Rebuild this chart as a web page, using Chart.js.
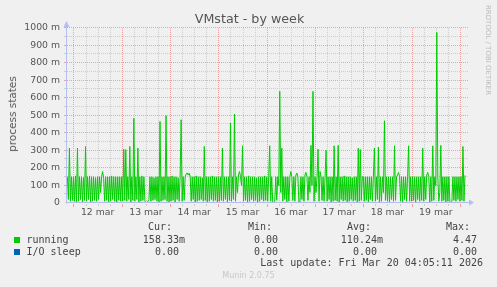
<!DOCTYPE html>
<html lang="en">
<head>
    <meta charset="UTF-8">
    <title>VMstat - by week</title>
    <script src="https://cdn.jsdelivr.net/npm/chart.js"></script>
    <style>
        body {
            margin: 0;
            padding: 0;
            background: #f0f0f0;
        }
        .graph {
            position: relative;
            width: 497px;
            height: 287px;
            overflow: hidden;
            font-family: "DejaVu Sans", sans-serif;
            color: #555;
        }
        .graph canvas {
            position: absolute;
            left: 0;
            top: 0;
        }
        .title {
            position: absolute;
            left: 0;
            width: 497px;
            top: 11px;
            text-align: center;
            font-size: 12.7px;
            line-height: 16px;
            padding-left: 1px;
        }
        .ylabel {
            position: absolute;
            left: 12px;
            top: 114px;
            transform: translate(-50%, -50%) rotate(-90deg);
            font-size: 10.5px;
            white-space: nowrap;
        }
        .side {
            position: absolute;
            left: 488px;
            top: 5px;
            transform-origin: 0 0;
            transform: rotate(90deg) translateY(-50%);
            font-size: 7px;
            color: #bbb;
            white-space: nowrap;
        }
        .mono {
            position: absolute;
            font-family: "DejaVu Sans Mono", monospace;
            font-size: 10px;
            line-height: 12px;
            color: #444;
            white-space: pre;
        }
        .sw {
            position: absolute;
            width: 6px;
            height: 6px;
        }
        .munin {
            position: absolute;
            left: 0;
            width: 497px;
            top: 271px;
            text-align: center;
            font-size: 8px;
            color: #c8c8c8;
        }
    </style>
</head>
<body>
<div class="graph" id="graph">
    <canvas id="vmstat" width="497" height="287"></canvas>
    <div class="title">VMstat - by week</div>
    <div class="ylabel">process states</div>
    <div class="side">RRDTOOL / TOBI OETIKER</div>
    <div class="munin">Munin 2.0.75</div>
</div>

<script>
    // half-hour samples, first one at Mar 11 21:00 (hours counted from Mar 12 00:00)
    const startHour = -3;
    const stepHours = 0.5;

    // running, in milli-processes, one array per day
    const mar11 = [150, 20, 314, 10, 150, 15];
    const mar12 = [150, 10, 155, 5, 314, 10, 150, 20, 150, 5, 145, 15, 323, 10, 150, 20, 155, 5, 150, 10, 150, 15, 145, 10,
                   150, 20, 150, 60, 150, 180, 140, 10, 150, 15, 150, 5, 150, 10, 155, 20, 150, 10, 150, 5, 150, 15, 150, 10];
    const mar13 = [150, 10, 308, 15, 305, 10, 150, 20, 323, 5, 150, 15, 485, 10, 150, 20, 314, 5, 150, 10, 155, 15, 150, 10,
                   5, 0, 10, 20, 150, 10, 150, 15, 145, 20, 150, 10, 150, 5, 466, 10, 150, 15, 150, 20, 499, 10, 150, 5];
    const mar14 = [150, 10, 155, 15, 150, 5, 150, 20, 145, 10, 150, 476, 10, 150, 15, 150, 165, 172, 160, 170, 150, 10, 150, 20,
                   150, 5, 155, 10, 150, 15, 150, 20, 145, 10, 323, 15, 150, 5, 150, 10, 150, 20, 155, 10, 150, 15, 150, 5];
    const mar15 = [150, 10, 150, 15, 314, 10, 150, 20, 150, 5, 150, 15, 457, 10, 150, 20, 508, 10, 150, 60, 160, 180, 150, 100,
                   327, 10, 150, 15, 150, 5, 155, 10, 150, 20, 150, 10, 150, 15, 145, 5, 150, 10, 150, 20, 150, 10, 155, 15];
    const mar16 = [150, 10, 150, 327, 10, 150, 5, 0, 10, 150, 15, 150, 100, 638, 60, 314, 10, 150, 20, 150, 5, 150, 10, 150,
                   180, 150, 15, 150, 10, 160, 171, 150, 5, 0, 150, 20, 150, 10, 160, 175, 150, 15, 150, 60, 329, 100, 638, 10];
    const mar17 = [150, 60, 150, 308, 10, 180, 150, 15, 150, 10, 150, 302, 10, 150, 20, 150, 5, 150, 10, 327, 15, 150, 10, 329,
                   5, 150, 20, 150, 10, 155, 15, 150, 5, 150, 10, 150, 20, 145, 10, 150, 15, 150, 5, 314, 10, 305, 15, 150];
    const mar18 = [150, 10, 150, 15, 150, 5, 150, 20, 150, 10, 150, 314, 10, 150, 20, 320, 5, 150, 10, 150, 60, 470, 15, 150,
                   10, 150, 5, 150, 20, 150, 10, 327, 15, 150, 160, 175, 150, 10, 150, 5, 150, 20, 150, 10, 150, 327, 10, 150];
    const mar19 = [10, 150, 15, 150, 5, 150, 20, 150, 10, 150, 15, 314, 10, 150, 20, 160, 175, 150, 5, 150, 10, 327, 15, 150,
                   100, 975, 150, 10, 60, 329, 10, 150, 15, 150, 5, 150, 10, 150, 5, 0, 10, 150, 15, 150, 10, 150, 20, 150];
    const mar20 = [10, 150, 15, 323, 10, 158];

    const running = [].concat(mar11, mar12, mar13, mar14, mar15, mar16, mar17, mar18, mar19, mar20);
    const ioSleep = [0, 0];

    const dayLabels = ['12 mar', '13 mar', '14 mar', '15 mar', '16 mar', '17 mar', '18 mar', '19 mar'];
    const xTickHours = [0, 6, 12, 18, 24, 30, 36, 42, 48, 54, 60, 66, 72, 78, 84, 90, 96, 102, 108, 114,
                        120, 126, 132, 138, 144, 150, 156, 162, 168, 174, 180, 186, 192];

    const legendRows = [
        { name: 'running', color: '#00cc00', cur: '158.33m', min: '0.00 ', avg: '110.24m', max: '4.47' },
        { name: 'I/O sleep', color: '#0066b3', cur: '0.00 ', min: '0.00 ', avg: '0.00 ', max: '0.00' }
    ];
    const lastUpdate = 'Last update: Fri Mar 20 04:05:11 2026';

    const MAJOR = '#eba3a3';
    const MINOR = '#cdcdcd';
    const AXIS = '#b4bef0';

    // legend block
    const graph = document.getElementById('graph');
    function addText(text, left, right, top) {
        const el = document.createElement('div');
        el.className = 'mono';
        el.textContent = text;
        el.style.top = top + 'px';
        if (left !== null) el.style.left = left + 'px';
        if (right !== null) el.style.right = (497 - right) + 'px';
        graph.appendChild(el);
    }
    addText('Cur:', null, 172, 221);
    addText('Min:', null, 272, 221);
    addText('Avg:', null, 371, 221);
    addText('Max:', null, 470, 221);
    legendRows.forEach((row, i) => {
        const top = 234 + i * 12.3;
        const sw = document.createElement('div');
        sw.className = 'sw';
        sw.style.background = row.color;
        sw.style.left = '14px';
        sw.style.top = (top + 3) + 'px';
        graph.appendChild(sw);
        addText(row.name, 26.5, null, top);
        addText(row.cur, null, 185, top);
        addText(row.min, null, 284, top);
        addText(row.avg, null, 383, top);
        addText(row.max, null, 477, top);
    });
    addText(lastUpdate, null, 483, 257);

    // rrdtool style dotted grid, one pixel on / one off
    const dottedGrid = {
        id: 'dottedGrid',
        beforeDatasetsDraw(chart) {
            const { ctx, chartArea: a, scales } = chart;
            const top = Math.round(a.top), bottom = Math.round(a.bottom);
            const left = Math.round(a.left), right = Math.round(a.right);
            ctx.save();
            scales.y.ticks.forEach(t => {
                if (t.value === 0) return;
                const py = Math.round(scales.y.getPixelForValue(t.value)) - 1;
                const major = t.value % 100 === 0;
                ctx.fillStyle = major ? MAJOR : MINOR;
                for (let x = left; x < right; x += 2) ctx.fillRect(x, py, 1, 1);
                ctx.fillRect(left - 3, py, 2, 1);
            });
            scales.x.ticks.forEach(t => {
                const px = Math.round(scales.x.getPixelForValue(t.value));
                const major = t.value % 24 === 0;
                ctx.fillStyle = major ? MAJOR : MINOR;
                for (let y = top; y < bottom; y += 2) ctx.fillRect(px, y, 1, 1);
                ctx.fillRect(px, bottom + 1, 1, major ? 3 : 2);
            });
            ctx.restore();
        },
        // axis lines with arrows, drawn over the data like rrdtool does
        afterDatasetsDraw(chart) {
            const { ctx, chartArea: a } = chart;
            const y0 = Math.round(chart.scales.y.getPixelForValue(0)) - 0.5;
            const x0 = Math.round(a.left) - 0.5;
            ctx.save();
            ctx.strokeStyle = AXIS;
            ctx.fillStyle = AXIS;
            ctx.lineWidth = 1;
            ctx.beginPath();
            ctx.moveTo(x0 - 1, y0);
            ctx.lineTo(a.right + 2, y0);
            ctx.moveTo(x0, y0 + 1);
            ctx.lineTo(x0, a.top - 3);
            ctx.stroke();
            ctx.beginPath();
            ctx.moveTo(a.right + 1, y0 - 3);
            ctx.lineTo(a.right + 6, y0);
            ctx.lineTo(a.right + 1, y0 + 3);
            ctx.closePath();
            ctx.fill();
            ctx.beginPath();
            ctx.moveTo(x0 - 3, a.top - 1);
            ctx.lineTo(x0, a.top - 7);
            ctx.lineTo(x0 + 3, a.top - 1);
            ctx.closePath();
            ctx.fill();
            ctx.restore();
        }
    };

    const ctx = document.getElementById('vmstat').getContext('2d');
    new Chart(ctx, {
        type: 'line',
        data: {
            datasets: [
                {
                    label: 'I/O sleep',
                    data: ioSleep.map((v, i) => ({ x: i === 0 ? startHour : startHour + stepHours * (running.length - 1), y: v })),
                    borderColor: '#0066b3',
                    borderWidth: 1
                },
                {
                    label: 'running',
                    data: running.map((v, i) => ({ x: startHour + stepHours * i, y: v })),
                    borderColor: '#00cc00',
                    borderWidth: 1
                }
            ]
        },
        options: {
            responsive: false,
            animation: false,
            devicePixelRatio: 1,
            elements: {
                point: { radius: 0 },
                line: { tension: 0 }
            },
            layout: {
                padding: { left: 0, right: 29, top: 28, bottom: 64 }
            },
            plugins: {
                legend: { display: false },
                title: { display: false },
                tooltip: { enabled: false }
            },
            scales: {
                x: {
                    type: 'linear',
                    min: -3.2,
                    max: 196,
                    afterBuildTicks: (scale) => {
                        scale.ticks = xTickHours.map(v => ({ value: v }));
                    },
                    afterFit: (scale) => { scale.height = 20; },
                    ticks: {
                        autoSkip: false,
                        maxRotation: 0,
                        padding: 1,
                        color: '#555',
                        font: { family: 'DejaVu Sans', size: 9.3 },
                        callback: (value) => (value % 24 === 12 ? dayLabels[(value - 12) / 24] : '')
                    },
                    grid: {
                        drawOnChartArea: false,
                        tickLength: 3,
                        color: 'rgba(0,0,0,0)'
                    },
                    border: { display: false }
                },
                y: {
                    min: 0,
                    max: 1000,
                    afterFit: (scale) => { scale.width = 67; },
                    ticks: {
                        stepSize: 50,
                        autoSkip: false,
                        padding: 4,
                        color: '#555',
                        font: { family: 'DejaVu Sans', size: 9.3 },
                        callback: (value) => (value % 100 === 0 ? (value === 0 ? '0' : value + ' m') : '')
                    },
                    grid: {
                        drawOnChartArea: false,
                        tickLength: 3,
                        color: 'rgba(0,0,0,0)'
                    },
                    border: { display: false }
                }
            }
        },
        plugins: [dottedGrid]
    });
</script>
</body>
</html>
